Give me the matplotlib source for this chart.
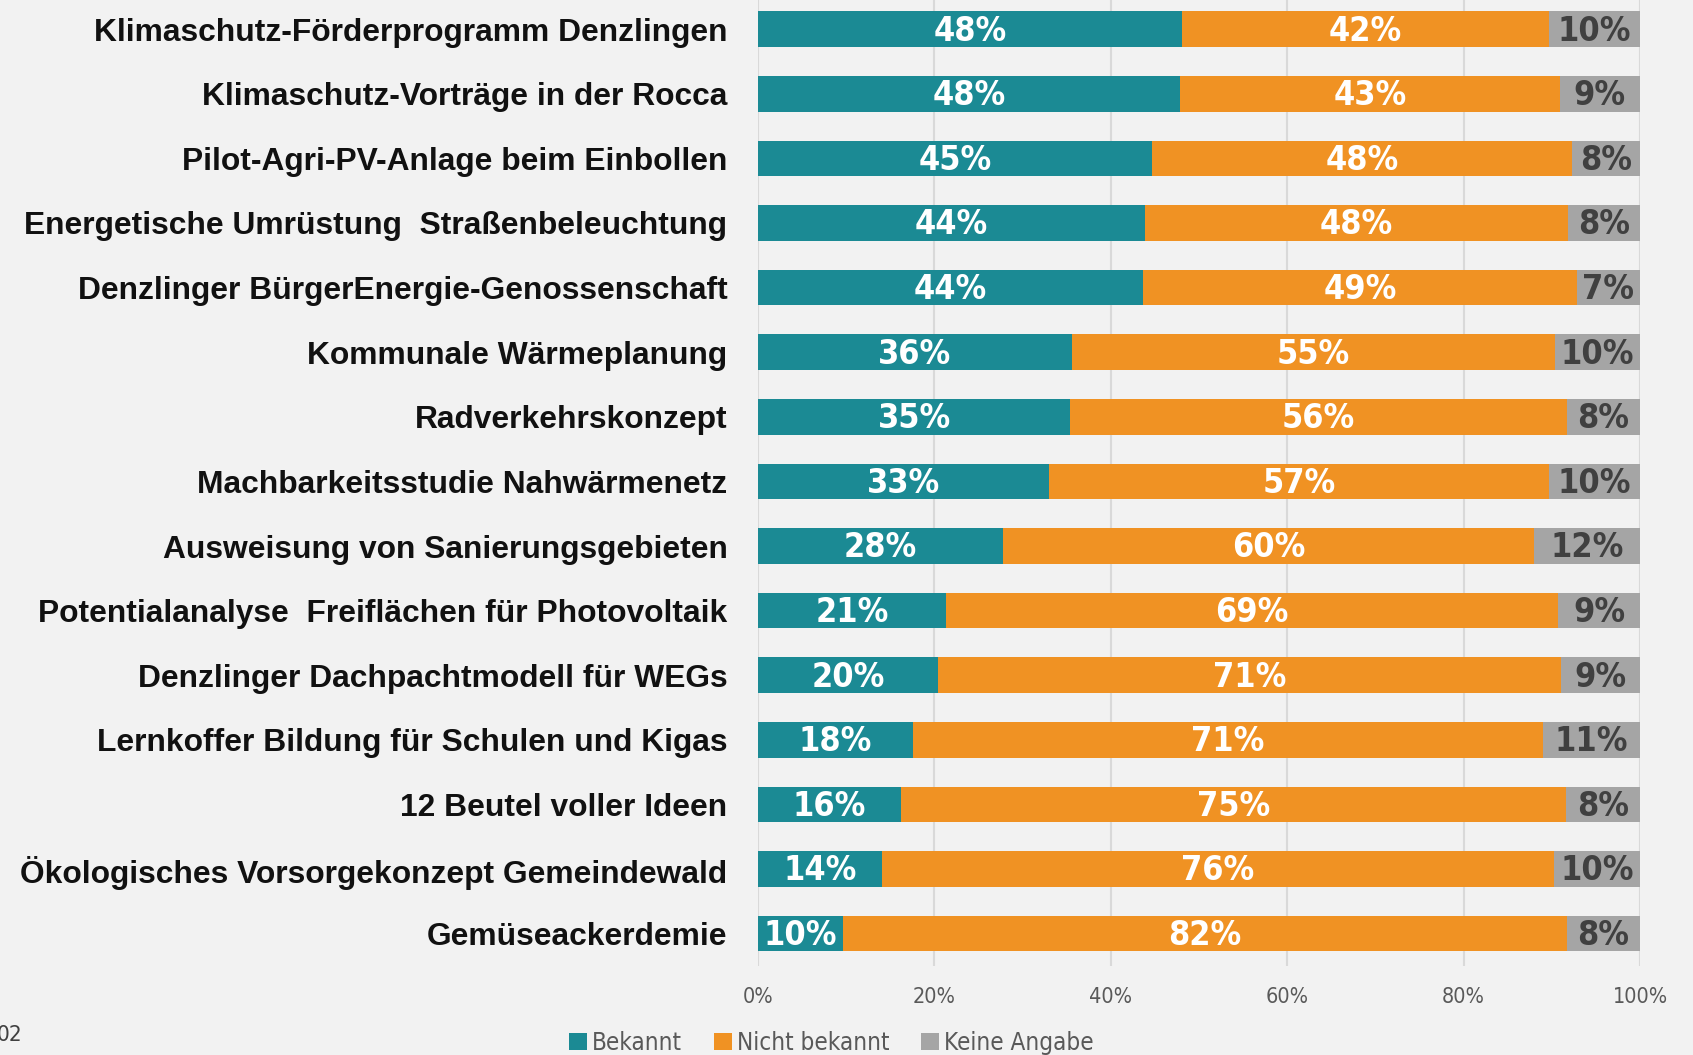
import numpy as np
import matplotlib.pyplot as plt

# data (share of respondents)
categories = [
    "Klimaschutz-Förderprogramm Denzlingen",
    "Klimaschutz-Vorträge in der Rocca",
    "Pilot-Agri-PV-Anlage beim Einbollen",
    "Energetische Umrüstung  Straßenbeleuchtung",
    "Denzlinger BürgerEnergie-Genossenschaft",
    "Kommunale Wärmeplanung",
    "Radverkehrskonzept",
    "Machbarkeitsstudie Nahwärmenetz",
    "Ausweisung von Sanierungsgebieten",
    "Potentialanalyse  Freiflächen für Photovoltaik",
    "Denzlinger Dachpachtmodell für WEGs",
    "Lernkoffer Bildung für Schulen und Kigas",
    "12 Beutel voller Ideen",
    "Ökologisches Vorsorgekonzept Gemeindewald",
    "Gemüseackerdemie",
]
bekannt = [48.1, 47.9, 44.7, 43.9, 43.7, 35.6, 35.4, 33.0, 27.8, 21.3, 20.4, 17.6, 16.2, 14.1, 9.6]
nicht_bekannt = [41.6, 43.0, 47.6, 47.9, 49.1, 54.8, 56.3, 56.7, 60.2, 69.4, 70.6, 71.4, 75.4, 76.1, 82.1]
keine_angabe = [10.3, 9.1, 7.7, 8.2, 7.2, 9.6, 8.3, 10.3, 12.0, 9.3, 9.0, 11.0, 8.4, 9.8, 8.3]
series_names = ["Bekannt", "Nicht bekannt", "Keine Angabe"]
ticks = [0, 20, 40, 60, 80, 100]

colors = ["#1B8A94", "#F09223", "#A5A5A5"]
label_colors = ["white", "white", "#404040"]
bg = "#F2F2F2"

fig = plt.figure(figsize=(16.93, 10.55), dpi=100, facecolor=bg)
ax = fig.add_axes([0.4477, 0.0844, 0.521, 0.9186], facecolor=bg)

y = np.arange(len(categories))
left = np.zeros(len(categories))
for vals, name, c, lc in zip([bekannt, nicht_bekannt, keine_angabe], series_names, colors, label_colors):
    vals = np.array(vals)
    ax.barh(y, vals, left=left, height=0.55, color=c, label=name, zorder=3)
    for yi, l, v in zip(y, left, vals):
        ax.text(l + v / 2, yi + 0.03, f"{round(v)}%", ha="center", va="center",
                color=lc, fontsize=24.5, fontweight="bold", family="DejaVu Sans",
                fontstretch="condensed", zorder=4)
    left += vals

ax.set_ylim(len(categories) - 0.5, -0.5)
ax.set_xlim(0, 100)
ax.set_yticks(y)
ax.set_yticklabels(categories, fontsize=22.9, fontweight="bold", family="Liberation Sans", color="#111111")
ax.set_xticks(ticks)
ax.set_xticklabels([f"{t}%" for t in ticks], fontsize=15.5, family="DejaVu Sans",
                   fontstretch="condensed", color="#595959")
ax.tick_params(axis="y", length=0, pad=22)
ax.tick_params(axis="x", length=0, pad=15)
ax.grid(axis="x", color="#D9D9D9", linewidth=1.5, zorder=0)
for s in ax.spines.values():
    s.set_visible(False)

fig.legend(loc="center", bbox_to_anchor=(0.491, 0.0115), ncol=3, frameon=False,
           handlelength=0.75, handleheight=0.75, handletextpad=0.2, columnspacing=1.3,
           prop={"family": "DejaVu Sans", "stretch": "condensed", "size": 17.4}, labelcolor="#595959")

fig.text(22 / 1693, 1 - 1035 / 1055, "02", ha="right", va="center",
         fontsize=16, family="DejaVu Sans", fontstretch="condensed", color="#404040")

fig.savefig("out.png", dpi=100, facecolor=bg)
